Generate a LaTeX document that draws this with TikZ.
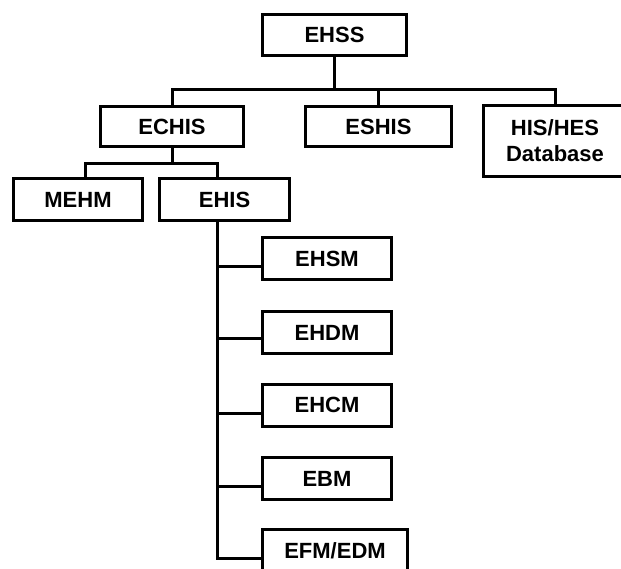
\documentclass[tikz,border=0pt]{standalone}
\usepackage{fontspec}
\setmainfont{Liberation Sans}
\begin{document}
\begin{tikzpicture}[x=1pt,y=-1pt,
  box/.style={draw,line width=3pt,inner sep=0pt,outer sep=0pt,
    font=\fontsize{22}{26}\selectfont\bfseries,align=center},
  link/.style={line width=3pt,line join=miter}]
\useasboundingbox (0,0) rectangle (621,569);
\clip (0,0) rectangle (621,569);
% boxes
\node[box,minimum width=144pt,minimum height=41pt] (ehss) at (334.5,35) {EHSS};
\node[box,minimum width=143pt,minimum height=40pt] (echis) at (172,126.5) {ECHIS};
\node[box,minimum width=146pt,minimum height=40pt] (eshis) at (378.5,126.5) {ESHIS};
\node[box,minimum width=143pt,minimum height=71pt] (hishes) at (555,141) {HIS/HES\\Database};
\node[box,minimum width=129pt,minimum height=42pt] (mehm) at (78,199.5) {MEHM};
\node[box,minimum width=130pt,minimum height=42pt] (ehis) at (224.5,199.5) {EHIS};
\node[box,minimum width=129pt,minimum height=42pt] (ehsm) at (327,258.5) {EHSM};
\node[box,minimum width=129pt,minimum height=42pt] (ehdm) at (327,332.5) {EHDM};
\node[box,minimum width=129pt,minimum height=42pt] (ehcm) at (327,405) {EHCM};
\node[box,minimum width=129pt,minimum height=42pt] (ebm) at (327,478.5) {EBM};
\node[box,minimum width=145pt,minimum height=42pt] (efm) at (335,550.5) {EFM/EDM};
% top bus
\coordinate (bus) at (0,89.5);
\draw[link] (ehss.south) -- (ehss.south |- bus);
\draw[link] (echis.north) -- (echis.north |- bus) -- (hishes.north |- bus) -- (hishes.north);
\draw[link] (eshis.north) -- (eshis.north |- bus);
% ECHIS children
\coordinate (bus2) at (0,164);
\draw[link] (echis.south) -- (echis.south |- bus2);
\path ([xshift=7pt]mehm.north) coordinate (mtop)
      ([xshift=-7.5pt]ehis.north) coordinate (etop)
      ([xshift=-7.5pt]ehis.south) coordinate (trunk);
\draw[link] (mtop) |- (etop |- bus2) -- (etop);
% EHIS children
\path ([yshift=-8pt]ehsm.west) coordinate (b1)
      ([yshift=-6pt]ehdm.west) coordinate (b2)
      ([yshift=-8pt]ehcm.west) coordinate (b3)
      ([yshift=-7.5pt]ebm.west) coordinate (b4)
      ([yshift=-7.5pt]efm.west) coordinate (b5);
\draw[link] (trunk) |- (b5);
\draw[link] (b1) -- (b1 -| trunk);
\draw[link] (b2) -- (b2 -| trunk);
\draw[link] (b3) -- (b3 -| trunk);
\draw[link] (b4) -- (b4 -| trunk);
\end{tikzpicture}
\end{document}
